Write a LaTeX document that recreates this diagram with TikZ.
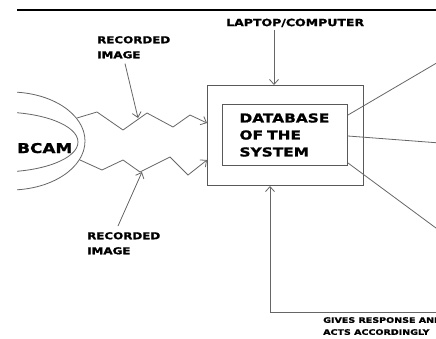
\documentclass[tikz,border=0pt]{standalone}
\usepackage{fontspec}
\newfontfamily\wide[FakeStretch=1.25,FakeBold=1.2]{DejaVu Sans}
\usetikzlibrary{arrows.meta,shapes.geometric}
\tikzset{
  wire/.style={draw=black!60, line width=0.8pt},
  barb/.style={-{Straight Barb[length=5pt,width=9pt]}},
  box/.style={draw=black!65, line width=1pt, inner sep=0pt, anchor=north west},
  caption/.style 2 args={font=\wide\bfseries\fontsize{#1}{#2}\selectfont, align=left, inner sep=0pt, anchor=north west},
}
\begin{document}
\begin{tikzpicture}[x=1pt,y=-1pt]
\useasboundingbox (0,0) rectangle (436,338);
\fill[white] (0,0) rectangle (436,338);
\begin{scope}
\clip (17,0) rectangle (436,338);

% rule across the top
\draw[line width=2pt] (17,10) -- (436,10);

% camera, drawn as two nested ellipses
\node[ellipse, wire, minimum width=150pt, minimum height=98pt, inner sep=0pt] (cam) at (10,141) {};
\node[ellipse, wire, minimum width=156pt, minimum height=60pt, inner sep=0pt] (lens) at (0,142) {};
\node[font=\wide\bfseries\fontsize{13.5}{14}\selectfont, inner sep=0pt, anchor=base west] (camtext) at (17,153) {BCAM};

% system boxes
\node[box, minimum width=156pt, minimum height=100pt] (sys) at (207,85) {};
\node[box, minimum width=125pt, minimum height=61pt, text width=91pt, inner xsep=17pt, align=left,
      font=\wide\bfseries\fontsize{12.3}{17}\selectfont] (db) at (222,104) {DATABASE\\OF THE\\SYSTEM};

% labels
\node[caption={10}{12}] (lap) at (226,18.5) {LAPTOP/COMPUTER};
\node[caption={9.5}{15}] (rec1) at (97,36) {RECORDED\\IMAGE};
\node[caption={9.5}{15}] (rec2) at (87,232) {RECORDED\\IMAGE};
\node[caption={7.6}{12}] (resp) at (323,317) {GIVES RESPONSE AND\\ACTS ACCORDINGLY};

% image streams from the camera into the system
\coordinate (s1) at (77,118);
\coordinate (s2) at (80,160);
\draw[wire, barb] (s1) -- (97,112) -- (123,130) -- (147,113) -- (173,127) -- (190,115) -- (sys.west |- 0,123);
\draw[wire, barb] (s2) -- (102,170) -- (123,160) -- (140,172) -- (170,157) -- (188,175) -- (sys.west |- 0,160);

% pointers from the labels to the streams
\coordinate (p1) at (138,118);
\coordinate (p2) at (142,172);
\draw[wire, barb] (rec1.south west) ++(28,5) -- (p1);
\draw[wire, barb] (rec2.north west) ++(31,-6) -- (p2);

% input from the laptop
\draw[wire, barb] (274,0 |- lap.south) ++(0,3) -- (274,0 |- sys.north);

% outputs leaving the database
\coordinate (o1) at (440,61);
\coordinate (o2) at (440,143);
\coordinate (o3) at (440,231);
\draw[wire] (db.east |- 0,115) -- (o1);
\draw[wire] (db.east |- 0,136) -- (o2);
\draw[wire] (db.south east) ++(0,-3) -- (o3);

% response fed back into the system
\coordinate (fb) at (440,312);
\draw[wire, barb] (fb) -- (270,312) -- (270,0 |- sys.south);
\end{scope}
\end{tikzpicture}
\end{document}
